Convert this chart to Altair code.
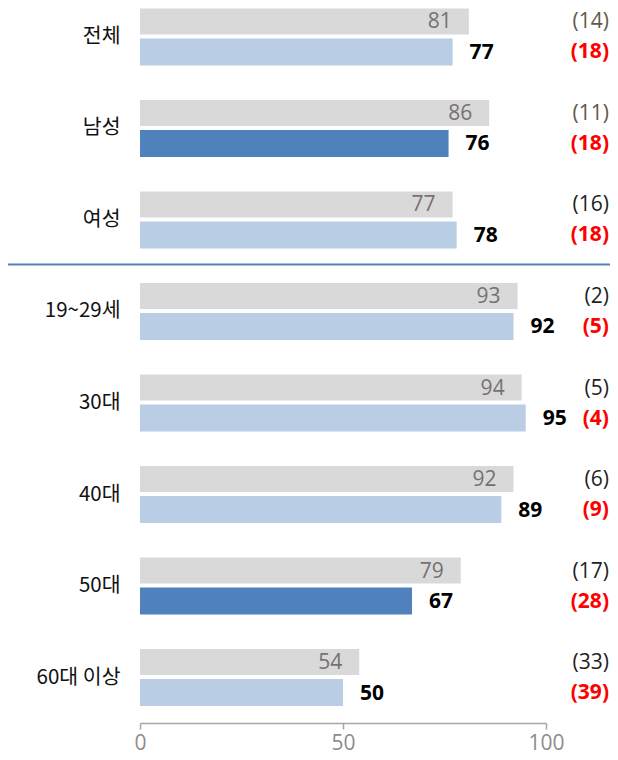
import altair as alt
import pandas as pd

categories = ["전체", "남성", "여성", "19~29세", "30대", "40대", "50대", "60대 이상"]
prev_values = [81, 86, 77, 93, 94, 92, 79, 54]
curr_values = [77, 76, 78, 92, 95, 89, 67, 50]
prev_ranks = ["(14)", "(11)", "(16)", "(2)", "(5)", "(6)", "(17)", "(33)"]
curr_ranks = ["(18)", "(18)", "(18)", "(5)", "(4)", "(9)", "(28)", "(39)"]
highlighted = ["남성", "50대"]
muted_rank_rows = ["전체", "남성"]
separator_before = ["19~29세"]
x_ticks = [0, 50, 100]

df = pd.DataFrame({
    "cat": categories,
    "prev": prev_values,
    "curr": curr_values,
    "prev_rank": prev_ranks,
    "curr_rank": curr_ranks,
})

NUM_FONT = "Open Sans"
KR_FONT = "Noto Sans CJK KR"
FS = 21

y_enc = alt.Y(
    "cat:N",
    sort=categories,
    scale=alt.Scale(domain=categories, paddingInner=0.41, paddingOuter=0),
    axis=alt.Axis(title=None, ticks=False, domain=False, labelFontSize=20.5,
                  labelFont=KR_FONT, labelColor="#111111", labelPadding=20),
)
y_plain = alt.Y("cat:N", sort=categories, scale=alt.Scale(domain=categories))

x_enc = alt.X(
    "prev:Q",
    scale=alt.Scale(domain=[0, 100]),
    axis=alt.Axis(title=None, values=x_ticks, grid=False, domainColor="#a6a6a6",
                  domainWidth=1.5, tickColor="#a6a6a6", tickWidth=1.5, tickSize=6,
                  labelColor="#8c8c8c", labelFontSize=FS, labelFont=NUM_FONT,
                  labelPadding=3, labelFlush=False, offset=18.5),
)

base = alt.Chart(df)

grey_bars = base.mark_bar(size=26, yOffset=-15.5, color="#d9d9d9").encode(x=x_enc, y=y_enc)

blue_bars = base.mark_bar(size=27, yOffset=15).encode(
    x=alt.X("curr:Q"),
    y=y_plain,
    color=alt.condition(
        alt.FieldOneOfPredicate(field="cat", oneOf=highlighted),
        alt.value("#4f81bd"), alt.value("#b9cde5")),
)

grey_labels = base.mark_text(align="right", baseline="middle", dx=-17, yOffset=-14.5,
                             color="#767171", fontSize=FS, font=NUM_FONT).encode(
    x=alt.X("prev:Q"), y=y_plain, text="prev:Q")

blue_labels = base.mark_text(align="left", baseline="middle", dx=17, yOffset=16,
                             color="#000000", fontSize=FS, font=NUM_FONT,
                             fontWeight="bold").encode(
    x=alt.X("curr:Q"), y=y_plain, text="curr:Q")

prev_rank_text = base.mark_text(align="right", baseline="middle", yOffset=-14.5,
                                fontSize=FS, font=NUM_FONT).encode(
    x=alt.value(469), y=y_plain, text="prev_rank:N",
    color=alt.condition(
        alt.FieldOneOfPredicate(field="cat", oneOf=muted_rank_rows),
        alt.value("#5f5b4b"), alt.value("#1f1f1f")),
)

curr_rank_text = base.mark_text(align="right", baseline="middle", yOffset=15.5,
                                fontSize=FS, font=NUM_FONT, fontWeight="bold",
                                color="#ff0000").encode(
    x=alt.value(469), y=y_plain, text="curr_rank:N")

sep = alt.Chart(pd.DataFrame({"cat": separator_before})).mark_rule(
    color="#4f81bd", strokeWidth=2, yOffset=-47).encode(
    y=y_plain, x=alt.value(-135), x2=alt.value(470))

chart = alt.layer(grey_bars, blue_bars, grey_labels, blue_labels,
                  prev_rank_text, curr_rank_text, sep).properties(
    width=406, height=694.5,
    autosize=alt.AutoSizeParams(type="none"),
    padding={"left": 132, "top": 2, "right": 64, "bottom": 51.5},
).configure_view(stroke=None)

chart.save("out.html", embed_options={"renderer": "svg", "actions": False})
